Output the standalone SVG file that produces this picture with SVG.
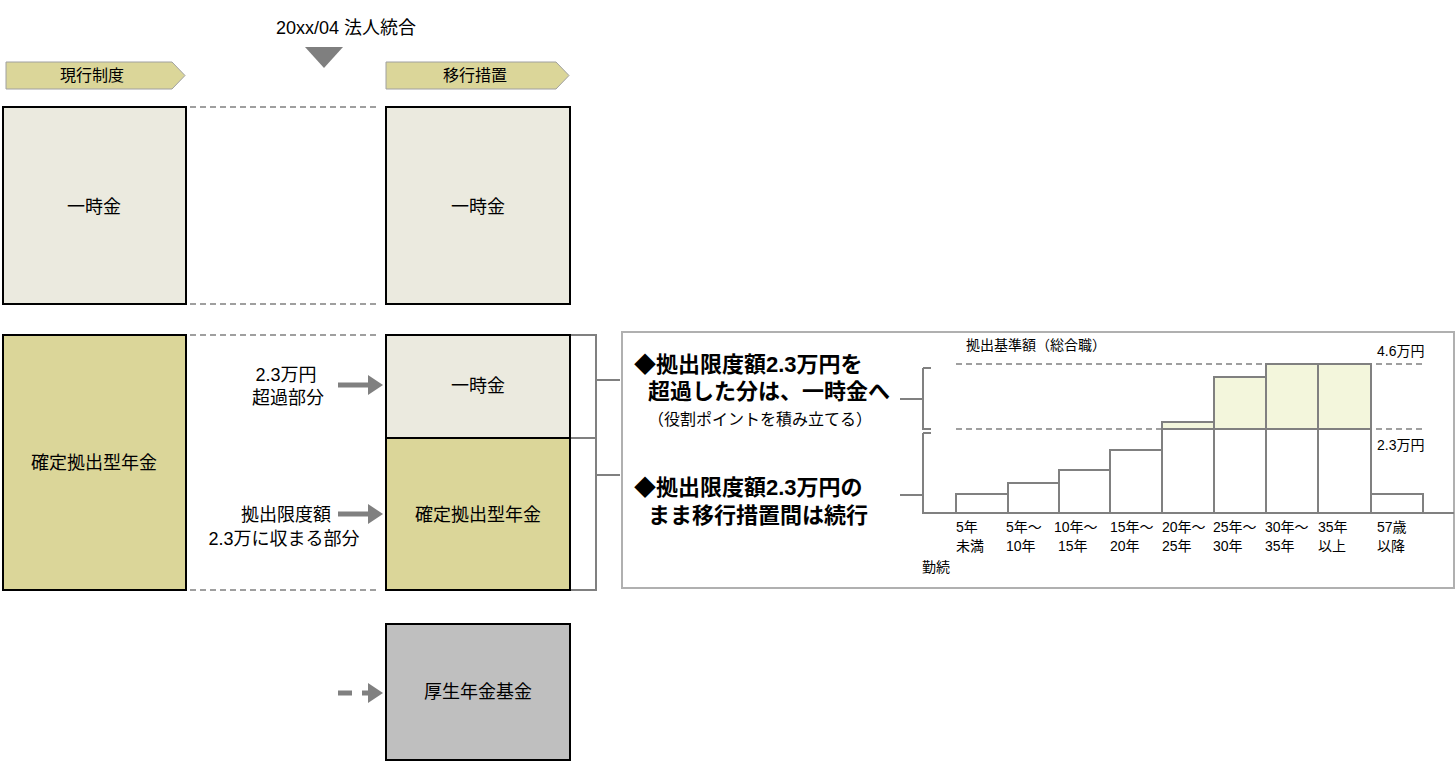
<svg xmlns="http://www.w3.org/2000/svg" width="1456" height="763" viewBox="0 0 1456 763">
<style>
text{font-family:"Liberation Sans","Noto Sans CJK JP",sans-serif;fill:#000}
.t{font-size:18px;text-anchor:middle}
.s{font-size:14px}
.b{font-size:22px;font-weight:bold}
.box{stroke:#000;stroke-width:2}
.light{fill:#ebeadf}.olive{fill:#dbd699}.grey{fill:#bfbfbf}
.dash{stroke:#808080;stroke-width:1.5;stroke-dasharray:6,4;fill:none}
.g{stroke:#808080;stroke-width:2;fill:none}
.bar{stroke:#808080;stroke-width:2;fill:#fff}
.bg{stroke:#808080;stroke-width:2;fill:#f3f6dc}
</style>
<defs><marker id="ah" markerWidth="4" markerHeight="4" refX="2" refY="2" orient="auto" markerUnits="strokeWidth"><path d="M0,0L3,2L0,4z" fill="#808080"/></marker></defs>
<g id="header">
<text x="346" y="34" class="t">20xx/04 法人統合</text>
<path d="M305,47H343L324,68Z" fill="#7f7f7f"/>
<g id="h1"><path d="M6,62H172L185,75.5L172,89H6Z" class="olive" stroke="#a0a0a0"/><text x="92" y="81" class="t" style="font-size:16px">現行制度</text></g>
<g id="h2"><path d="M386,62H556L569,75.5L556,89H386Z" class="olive" stroke="#a0a0a0"/><text x="475" y="81" class="t" style="font-size:16px">移行措置</text></g>
</g>
<g id="connectors">
<path class="dash" d="M190,107H380M190,304H380M190,335H380M190,590H380"/>
<path class="g" d="M570,335H596V590H570M570,438H596M596,380H620M596,475H620"/>
<path d="M338,385H378" stroke="#808080" stroke-width="5" marker-end="url(#ah)"/>
<path d="M338,514H378" stroke="#808080" stroke-width="5" marker-end="url(#ah)"/>
<path d="M338,693H378" stroke="#808080" stroke-width="5" stroke-dasharray="14,10" marker-end="url(#ah)"/>
</g>
<g id="n1"><rect x="3" y="107" width="183" height="197" class="box light"/><text x="94" y="213" class="t">一時金</text></g>
<g id="n2"><rect x="3" y="335" width="183" height="255" class="box olive"/><text x="94" y="469" class="t">確定拠出型年金</text></g>
<g id="n3"><rect x="386" y="107" width="184" height="197" class="box light"/><text x="478" y="213" class="t">一時金</text></g>
<g id="n4"><rect x="386" y="335" width="184" height="103" class="box light"/><text x="478" y="392" class="t">一時金</text></g>
<g id="n5"><rect x="386" y="438" width="184" height="152" class="box olive"/><text x="478" y="521" class="t">確定拠出型年金</text></g>
<g id="n6"><rect x="386" y="624" width="184" height="136" class="box grey"/><text x="478" y="698" class="t">厚生年金基金</text></g>
<g id="labels">
<text x="286" y="381" class="t">2.3万円</text><text x="288" y="404" class="t">超過部分</text>
<text x="286" y="521" class="t">拠出限度額</text><text x="284" y="545" class="t">2.3万に収まる部分</text>
</g>
<g id="chart">
<rect x="622" y="332" width="832" height="256" fill="#fff" stroke="#b0b0b0" stroke-width="2"/>
<text x="634" y="372" class="b">◆拠出限度額2.3万円を</text>
<text x="648" y="399" class="b">超過した分は、一時金へ</text>
<text x="648" y="425" style="font-size:16px">（役割ポイントを積み立てる）</text>
<text x="634" y="495" class="b">◆拠出限度額2.3万円の</text>
<text x="648" y="523" class="b">まま移行措置間は続行</text>
<text x="966" y="350" class="s">拠出基準額（総合職）</text>
<text x="1377" y="356" class="s">4.6万円</text>
<text x="1377" y="450" class="s">2.3万円</text>
<rect x="956" y="494" width="52" height="19" class="bar"/>
<rect x="1008" y="483" width="51" height="30" class="bar"/>
<rect x="1059" y="470" width="51" height="43" class="bar"/>
<rect x="1110" y="450" width="52" height="63" class="bar"/>
<rect x="1162" y="422" width="52" height="7" class="bg"/>
<rect x="1162" y="429" width="52" height="84" class="bar"/>
<rect x="1214" y="377" width="52" height="52" class="bg"/>
<rect x="1214" y="429" width="52" height="84" class="bar"/>
<rect x="1266" y="364" width="52" height="65" class="bg"/>
<rect x="1266" y="429" width="52" height="84" class="bar"/>
<rect x="1318" y="364" width="53" height="65" class="bg"/>
<rect x="1318" y="429" width="53" height="84" class="bar"/>
<rect x="1371" y="494" width="52" height="19" class="bar"/>
<path class="dash" d="M956,364H1423M956,429H1423"/>
<path class="g" d="M923,368H931M923,368V429H931M900,399H923M923,433H931M923,433V513H1454M900,495H923"/>
<g>
<text x="956" y="532" class="s">5年</text><text x="956" y="551" class="s">未満</text>
<text x="1006" y="532" class="s">5年～</text><text x="1006" y="551" class="s">10年</text>
<text x="1054" y="532" class="s">10年～</text><text x="1058" y="551" class="s">15年</text>
<text x="1110" y="532" class="s">15年～</text><text x="1110" y="551" class="s">20年</text>
<text x="1162" y="532" class="s">20年～</text><text x="1162" y="551" class="s">25年</text>
<text x="1213" y="532" class="s">25年～</text><text x="1213" y="551" class="s">30年</text>
<text x="1265" y="532" class="s">30年～</text><text x="1265" y="551" class="s">35年</text>
<text x="1318" y="532" class="s">35年</text><text x="1318" y="551" class="s">以上</text>
<text x="1377" y="532" class="s">57歳</text><text x="1377" y="551" class="s">以降</text>
<text x="922" y="572" class="s">勤続</text>
</g>
</g>
</svg>
